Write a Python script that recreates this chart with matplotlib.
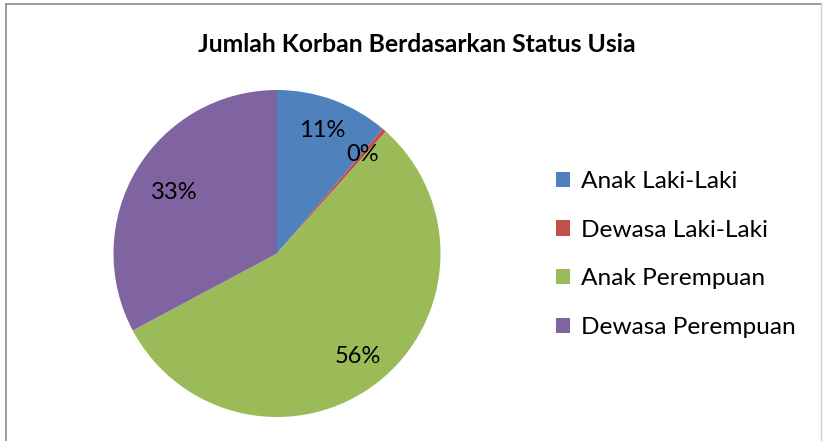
import matplotlib
matplotlib.use("Agg")
import matplotlib.pyplot as plt
from matplotlib.lines import Line2D
import numpy as np

plt.rcParams['font.family'] = ['Lato', 'DejaVu Sans']

title = "Jumlah Korban Berdasarkan Status Usia"
categories = ["Anak Laki-Laki", "Dewasa Laki-Laki", "Anak Perempuan", "Dewasa Perempuan"]
values = [11.2, 0.4, 55.6, 32.8]
colors = ["#4F81BD", "#C0504D", "#9BBB59", "#8064A2"]

W, H = 823, 441
fig = plt.figure(figsize=(W / 100, H / 100), dpi=100)

# pie axes: center (277, 253.5), radius 163.5 px
cx, cy, r = 277, 253.5, 163.5
ax = fig.add_axes([(cx - r) / W, (H - cy - r) / H, 2 * r / W, 2 * r / H])
wedges, texts, autotexts = ax.pie(values, colors=colors, startangle=90, counterclock=False,
                                  autopct='%1.0f%%', pctdistance=0.8, radius=1,
                                  textprops=dict(fontsize=17, color='black'))
# Dewasa Perempuan label sits a bit closer to center
t = autotexts[3]
x, y = t.get_position()
t.set_position((x * 0.73 / 0.8, y * 0.73 / 0.8))
ax.set_xlim(-1, 1)
ax.set_ylim(-1, 1)
ax.set_aspect('equal')
ax.axis('off')

fig.text(417 / W, 1 - 45 / H, title, ha='center', va='center', fontsize=17.8, fontweight='bold')

leg = fig.legend(wedges, categories, loc='upper left', bbox_to_anchor=(556 / W, 1 - 171 / H),
                 frameon=False, fontsize=17.6, handlelength=0.58, handleheight=0.58,
                 handletextpad=0.45, labelspacing=1.13, borderaxespad=0, borderpad=0)

# frame
col = "#8c8c8c"
fig.add_artist(Line2D([6 / W, 6 / W], [0, 1 - 3.5 / H], transform=fig.transFigure, color=col, lw=1.2))
fig.add_artist(Line2D([6 / W, 821 / W], [1 - 3.5 / H, 1 - 3.5 / H], transform=fig.transFigure, color=col, lw=1.2))
fig.add_artist(Line2D([821 / W, 821 / W], [0, 1 - 3.5 / H], transform=fig.transFigure, color="#d0d0d0", lw=1.0))

fig.savefig("out.png", dpi=100, facecolor='white')
